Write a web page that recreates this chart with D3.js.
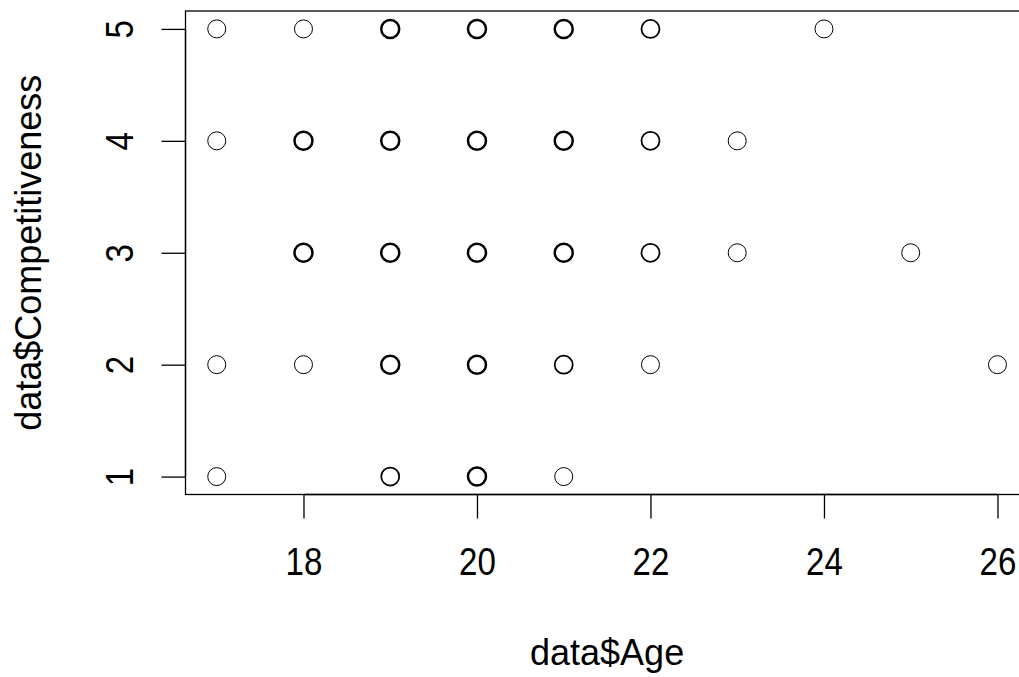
<!DOCTYPE html>
<html lang="en">
<head>
    <meta charset="UTF-8">
    <script src="https://cdn.jsdelivr.net/npm/d3@7"></script>
    <title>data$Age vs data$Competitiveness</title>
    <style>
        body { margin: 0; background: #fff; }
        text { font-family: "Liberation Sans", Arial, sans-serif; fill: #000; }
    </style>
</head>
<body>
    <svg width="1019" height="677"></svg>
    <script>
        // each entry is one (age, competitiveness) pair; counts = how many respondents share it
        const ages    = [17, 18, 19, 20, 21, 22, 24,  17, 18, 19, 20, 21, 22, 23,  18, 19, 20, 21, 22, 23, 25,  17, 18, 19, 20, 21, 22, 26,  17, 19, 20, 21];
        const comp    = [ 5,  5,  5,  5,  5,  5,  5,   4,  4,  4,  4,  4,  4,  4,   3,  3,  3,  3,  3,  3,  3,   2,  2,  2,  2,  2,  2,  2,   1,  1,  1,  1];
        const counts  = [ 1,  1,  3,  3,  3,  2,  1,   1,  3,  3,  3,  3,  2,  1,   3,  3,  3,  3,  2,  1,  1,   1,  1,  3,  3,  2,  1,  1,   1,  2,  3,  1];
        const xTicks = [18, 20, 22, 24, 26];
        const yTicks = [1, 2, 3, 4, 5];

        const svg = d3.select('svg');
        const plotLeft = 185.5, plotTop = 11, plotBottom = 494.5;

        // R-style 4% padding around the data range
        const padX = (26 - 17) * 0.04, padY = (5 - 1) * 0.04;
        const x = d3.scaleLinear().domain([17 - padX, 26 + padX]).range([plotLeft, plotLeft + (26 - 17 + 2 * padX) * 86.75]);
        const y = d3.scaleLinear().domain([1 - padY, 5 + padY]).range([plotBottom, plotTop]);
        // overplotted points look heavier in the original
        const weight = d3.scaleLinear().domain([1, 3]).range([1.0, 2.5]);

        svg.append('g').selectAll('circle').data(ages.map((a, i) => i)).join('circle')
            .attr('cx', i => x(ages[i])).attr('cy', i => y(comp[i])).attr('r', 9)
            .attr('fill', 'none').attr('stroke', '#000')
            .attr('stroke-width', i => weight(counts[i]));

        // plot box (right side runs off the page)
        svg.append('rect')
            .attr('x', plotLeft).attr('y', plotTop)
            .attr('width', x.range()[1] - plotLeft).attr('height', plotBottom - plotTop)
            .attr('fill', 'none').attr('stroke', '#000').attr('stroke-width', 1.3);

        // bottom axis; tick digits are a bit condensed in the original
        const xAxis = svg.append('g').attr('transform', `translate(0,${plotBottom})`)
            .call(d3.axisBottom(x).tickValues(xTicks).tickSize(24).tickPadding(30).tickSizeOuter(0));
        xAxis.select('.domain').attr('d', `M${x(18)},0H${x(26)}`).attr('stroke-width', 1.3);
        xAxis.selectAll('.tick line').attr('stroke-width', 1.3);
        xAxis.selectAll('text').attr('font-size', 38).attr('font-family', null)
            .attr('transform', 'scale(0.87,1)');

        // left axis, labels turned parallel to the axis
        const yAxis = svg.append('g').attr('transform', `translate(${plotLeft},0)`)
            .call(d3.axisLeft(y).tickValues(yTicks).tickFormat(d3.format('d')).tickSize(24).tickSizeOuter(0));
        yAxis.select('.domain').attr('d', `M0,${y(1)}V${y(5)}`).attr('stroke-width', 1.3);
        yAxis.selectAll('.tick line').attr('stroke-width', 1.3);
        yAxis.selectAll('text')
            .attr('font-size', 38).attr('font-family', null)
            .attr('x', null).attr('dy', null)
            .attr('text-anchor', 'middle')
            .attr('transform', 'translate(-53,0) rotate(-90) scale(0.87,1)');

        // axis titles, centred on the plot region
        const xr = x.range();
        svg.append('text').attr('x', (xr[0] + xr[1]) / 2).attr('y', 665)
            .attr('text-anchor', 'middle').attr('font-size', 36).text('data$Age');
        svg.append('text').attr('transform', `translate(41,${(plotTop + plotBottom) / 2}) rotate(-90)`)
            .attr('text-anchor', 'middle').attr('font-size', 36).text('data$Competitiveness');
    </script>
</body>
</html>
